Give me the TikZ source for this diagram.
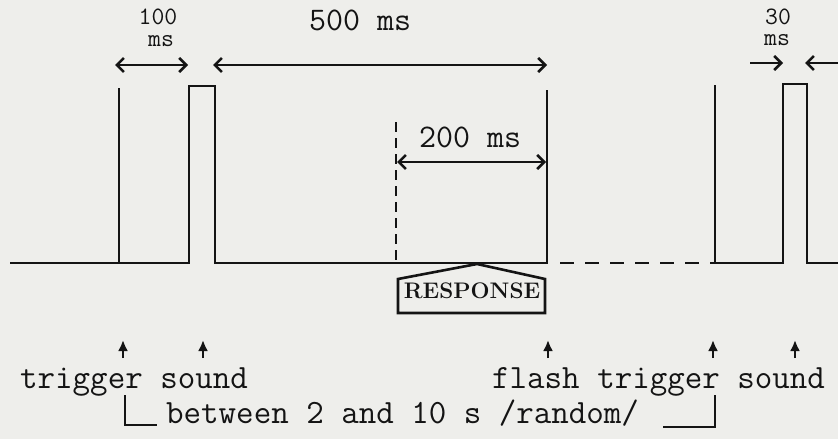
\documentclass[tikz,border=0pt]{standalone}
\usetikzlibrary{arrows.meta}
\definecolor{paper}{RGB}{238,238,235}
\definecolor{ink}{RGB}{20,20,20}
\tikzset{
  wave/.style={line width=2.8pt, draw=ink, line join=miter},
  dashwave/.style={line width=2.8pt, draw=ink, dash pattern=on 14pt off 11pt},
  dashv/.style={line width=2.4pt, draw=ink, dash pattern=on 10pt off 6pt},
  dimline/.style={line width=2.6pt, draw=ink, {Straight Barb[length=7pt,width=14pt,line width=2.6pt]}-{Straight Barb[length=7pt,width=14pt,line width=2.6pt]}},
  onehead/.style={line width=2.6pt, draw=ink, -{Straight Barb[length=7pt,width=14pt,line width=2.6pt]}},
  marker/.style={line width=2.2pt, draw=ink, -{Latex[length=11pt,width=10pt]}},
  bracket/.style={line width=2.8pt, draw=ink},
  lbl/.style={font=\fontsize{34}{34}\selectfont\ttfamily, text=ink, inner sep=0pt, anchor=base west},
  toplbl/.style={font=\fontsize{33}{33}\selectfont\ttfamily, text=ink, inner sep=0pt, anchor=base west},
  small/.style={font=\fontsize{25}{25}\selectfont\ttfamily, text=ink, inner sep=0pt, anchor=base},
  resp/.style={font=\fontsize{22.5}{22.5}\selectfont\bfseries\rmfamily, text=ink, inner sep=0pt, anchor=base},
}
\begin{document}
\begin{tikzpicture}[x=1pt,y=-1pt]
  \fill[paper] (0,0) rectangle (838,439);
  \useasboundingbox (0,0) rectangle (838,439);

  % waveform
  \draw[wave] (10,263) -- (189,263) -- (189,86) -- (215,86) -- (215,263) -- (547,263) -- (547,90);
  \draw[wave] (119,263) -- (119,88);
  \draw[dashwave] (560,263) -- (715,263);
  \draw[wave] (715,85) -- (715,263) -- (783,263) -- (783,84) -- (807,84) -- (807,263) -- (838,263);
  \draw[dashv] (396,122) -- (396,263);

  % dimension coordinates
  \coordinate (a1) at (115,65);
  \coordinate (a2) at (188,65);
  \coordinate (b1) at (213,65);
  \coordinate (b2) at (547,65);
  \coordinate (c1) at (397,162);
  \coordinate (c2) at (546,162);
  \coordinate (d1) at (750,63);
  \coordinate (d2) at (783,63);
  \coordinate (e1) at (838,63);
  \coordinate (e2) at (805,63);

  \draw[dimline] (a1) -- (a2);
  \draw[dimline] (b1) -- (b2);
  \draw[dimline] (c1) -- (c2);
  \draw[onehead] (d1) -- (d2);
  \draw[onehead] (e1) -- (e2);

  % top labels
  \node[small] (l100) at (158,24) {100};
  \node[small] (l100ms) at (161,46) {ms};
  \node[toplbl] (l500) at (309,30) {500 ms};
  \node[toplbl] (l200) at (419,147) {200 ms};
  \node[small] (l30) at (778,24) {30};
  \node[small] (l30ms) at (777,45) {ms};

  % response box
  \coordinate (r1) at (398,313);
  \coordinate (r2) at (398,279);
  \coordinate (r3) at (477,264);
  \coordinate (r4) at (545,279);
  \coordinate (r5) at (545,313);
  \draw[line width=2.6pt, draw=ink, line join=miter] (r1) -- (r2) -- (r3) -- (r4) -- (r5) -- cycle;
  \node[resp] (response) at (472,298) {RESPONSE};

  % event markers
  \foreach \x/\n in {123/m1, 203/m2, 548/m3, 713/m4, 795/m5} {
    \coordinate (\n a) at (\x,358);
    \coordinate (\n b) at (\x,340);
    \draw[marker] (\n a) -- (\n b);
  }

  % bottom labels
  \node[lbl] (ts1) at (20,388) {trigger sound};
  \node[lbl] (fts) at (492,388) {flash trigger sound};
  \node[lbl] (between) at (166,423) {between 2 and 10 s /random/};

  % brackets
  \coordinate (k1) at (125,395);
  \coordinate (k2) at (125,425);
  \coordinate (k3) at (157,425);
  \coordinate (k4) at (663,427);
  \coordinate (k5) at (715,427);
  \coordinate (k6) at (715,395);
  \draw[bracket] (k1) -- (k2) -- (k3);
  \draw[bracket] (k4) -- (k5) -- (k6);
\end{tikzpicture}
\end{document}
